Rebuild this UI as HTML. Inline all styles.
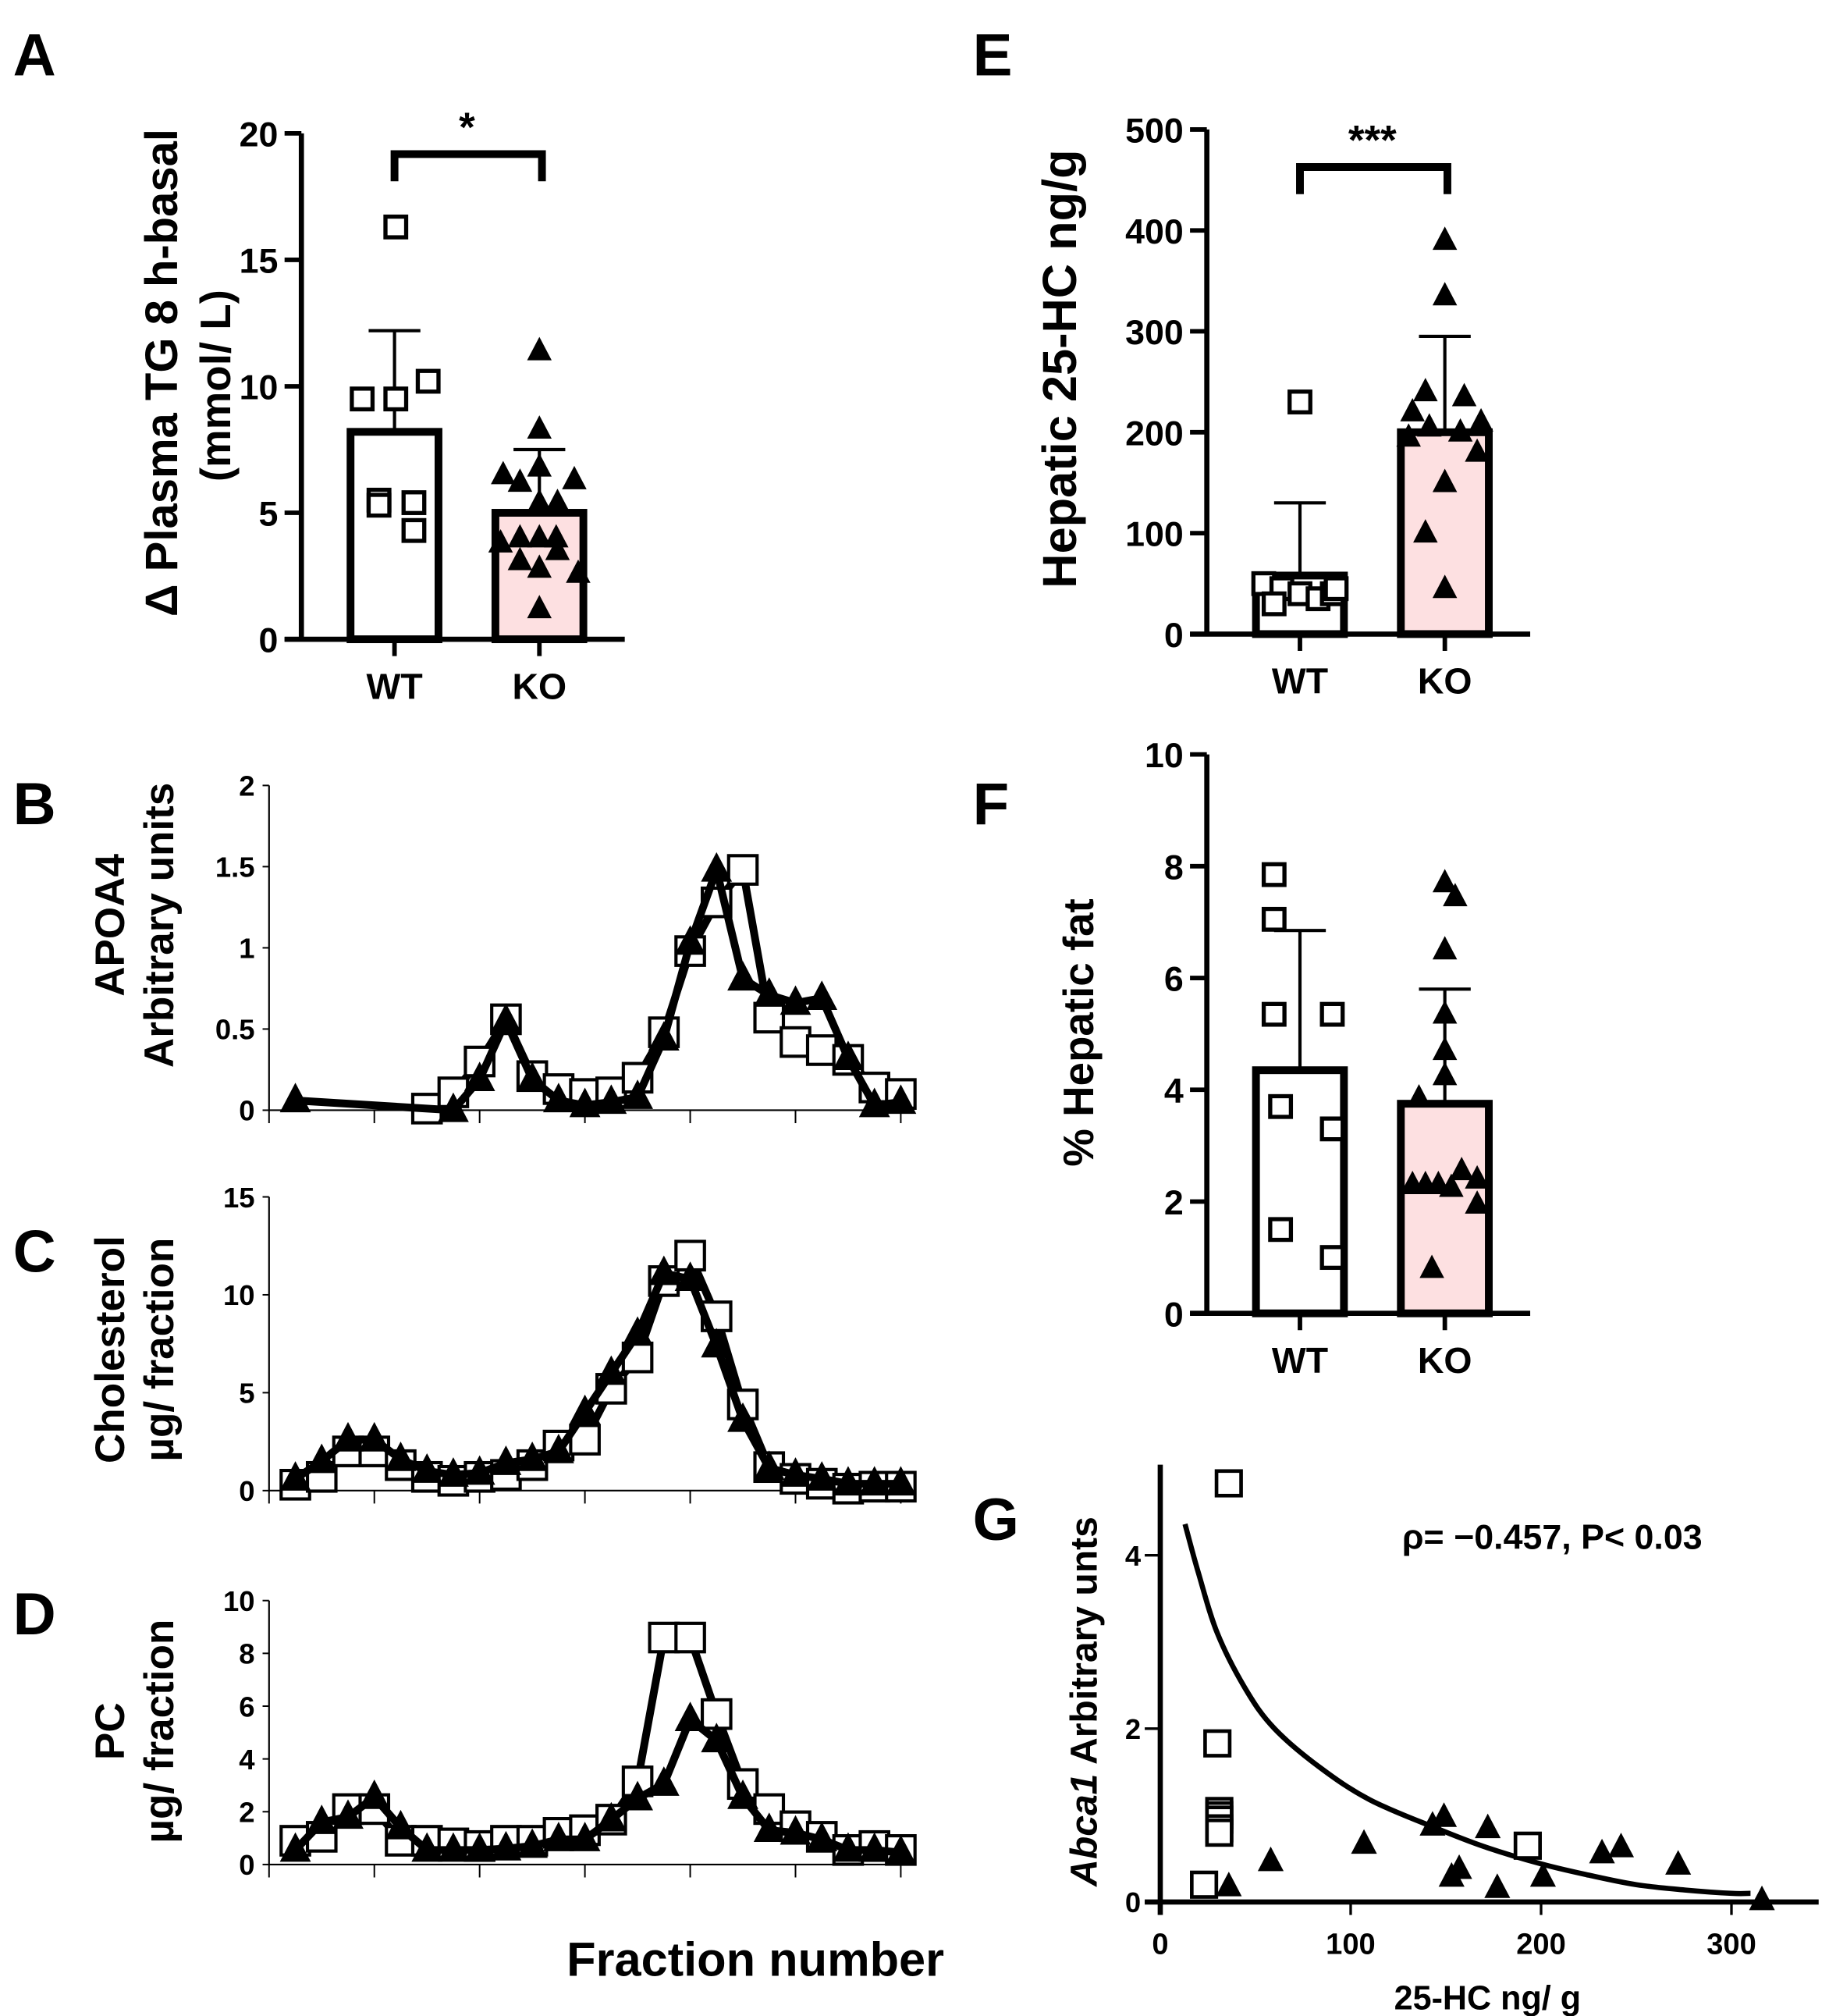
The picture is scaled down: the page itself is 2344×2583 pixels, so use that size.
<!DOCTYPE html>
<html><head><meta charset="utf-8"><title>Figure</title>
<style>
html,body{margin:0;padding:0;background:#fff;}
svg{display:block;}
text{font-family:"Liberation Sans",Arial,sans-serif;font-weight:bold;fill:#000;}
</style></head>
<body>
<svg id="fig" width="2344" height="2583" viewBox="0 0 1414 1558" xmlns="http://www.w3.org/2000/svg">
<rect x="0" y="0" width="1414" height="1558" fill="#fff"/>
<text x="10" y="58" font-size="46">A</text>
<text x="752" y="58" font-size="46">E</text>
<text x="10" y="637" font-size="46">B</text>
<text x="752" y="637" font-size="46">F</text>
<text x="10" y="983" font-size="46">C</text>
<text x="10" y="1263" font-size="46">D</text>
<text x="752" y="1190" font-size="46">G</text>
<text transform="translate(137,288) rotate(-90)" text-anchor="middle" font-size="35">Δ Plasma TG 8 h-basal</text>
<text transform="translate(178,298) rotate(-90)" text-anchor="middle" font-size="33">(mmol/ L)</text>
<text transform="translate(832,285) rotate(-90)" text-anchor="middle" font-size="37">Hepatic 25-HC ng/g</text>
<text transform="translate(845,798) rotate(-90)" text-anchor="middle" font-size="33">% Hepatic fat</text>
<text transform="translate(96,715) rotate(-90)" text-anchor="middle" font-size="32">APOA4</text>
<text transform="translate(134,715) rotate(-90)" text-anchor="middle" font-size="32">Arbitrary units</text>
<text transform="translate(96,1043) rotate(-90)" text-anchor="middle" font-size="32">Cholesterol</text>
<text transform="translate(134,1043) rotate(-90)" text-anchor="middle" font-size="32">µg/ fraction</text>
<text transform="translate(96,1338) rotate(-90)" text-anchor="middle" font-size="32">PC</text>
<text transform="translate(134,1338) rotate(-90)" text-anchor="middle" font-size="32">µg/ fraction</text>
<text x="584" y="1527" text-anchor="middle" font-size="37">Fraction number</text>
<text transform="translate(848,1315) rotate(-90)" text-anchor="middle" font-size="29"><tspan font-style="italic">Abca1</tspan> Arbitrary unts</text>
<text x="1150" y="1553" text-anchor="middle" font-size="26">25-HC ng/ g</text>
<text x="1200" y="1197" text-anchor="middle" font-size="27">ρ= −0.457, P&lt; 0.03</text>
<g id="plots"></g>
</svg>
<script>
const aGroups = ["WT","KO"];
const aTicks = [0,5,10,15,20];
const aMeans = [8.2, 5.0];
const aSD = [4.0, 2.5];
const aWT = [16.3, 9.5, 9.5, 10.2, 5.5, 5.3, 5.4, 4.3];
const aKO = [11.4, 8.3, 6.8, 6.5, 6.3, 6.2, 5.4, 5.4, 4.0, 4.0, 4.0, 3.8, 3.5, 3.1, 2.8, 2.6, 1.2];
const eTicks = [0,100,200,300,400,500];
const eMeans = [58, 200];
const eSD = [72, 95];
const eWT = [230, 50, 45, 40, 35, 40, 45, 30];
const eKO = [390, 335, 240, 235, 220, 210, 205, 200, 195, 180, 150, 100, 45];
const fTicks = [0,2,4,6,8,10];
const fMeans = [4.35, 3.75];
const fSD = [2.5, 2.05];
const fWT = [7.85, 7.05, 5.35, 5.35, 3.7, 3.3, 1.5, 1.0];
const fKO = [7.7, 7.45, 6.5, 5.35, 4.7, 4.25, 3.85, 2.55, 2.4, 2.3, 2.3, 2.3, 2.25, 1.95, 0.8];
const fractions = [1,2,3,4,5,6,7,8,9,10,11,12,13,14,15,16,17,18,19,20,21,22,23,24];
const bTicks = [0,0.5,1,1.5,2];
const bWT = [null,null,null,null,null,0.01,0.11,0.3,0.56,0.21,0.13,0.1,0.11,0.2,0.48,0.98,1.28,1.48,0.57,0.42,0.37,0.31,0.14,0.1];
const bKO = [0.06,null,null,null,null,null,0.0,0.19,0.55,0.19,0.06,0.03,0.05,0.08,0.44,1.03,1.48,0.81,0.71,0.66,0.69,0.32,0.03,0.05];
const cTicks = [0,5,10,15];
const cWT = [0.3,0.7,2.0,2.0,1.3,0.7,0.5,0.7,0.8,1.3,2.3,2.6,5.2,6.8,10.7,12.0,8.9,4.4,1.2,0.6,0.35,0.1,0.2,0.2];
const cKO = [0.6,1.5,2.6,2.6,1.6,1.0,0.8,0.9,1.4,1.6,2.0,4.0,6.0,8.0,11.1,10.8,7.4,3.6,1.15,0.8,0.6,0.35,0.35,0.35];
const dTicks = [0,2,4,6,8,10];
const dWT = [0.9,1.05,2.1,2.1,0.9,0.9,0.8,0.7,0.9,0.9,1.2,1.3,1.7,3.15,8.6,8.6,5.7,3.05,2.1,1.45,1.05,0.55,0.7,0.55];
const dKO = [0.55,1.6,1.8,2.55,1.4,0.55,0.55,0.55,0.6,0.7,0.95,0.95,1.7,2.5,3.05,5.5,4.7,2.55,1.3,1.2,0.95,0.55,0.55,0.45];
const gXTicks = [0,100,200,300];
const gYTicks = [0,2,4];
const gWTx = [36,30,31,31,31,31,31,193,23];
const gWTy = [4.83,1.83,1.05,1.0,0.95,0.85,0.8,0.65,0.2];
const gKOx = [36,58,107,143,149,172,153,157,177,201,232,242,272,316];
const gKOy = [0.18,0.47,0.67,0.88,0.98,0.85,0.29,0.38,0.16,0.29,0.56,0.63,0.43,0.02];
const gFitX = [13,20,30,45,60,84,110,144,170,200,225,250,275,300,310];
const gFitY = [4.36,3.8,3.1,2.45,2.0,1.55,1.18,0.86,0.64,0.44,0.31,0.2,0.14,0.1,0.1];

const aWTj=[1,-25,1,26,-12,-12,15,15];
const aKOj=[0,0,0,-28,27,-15,0,14,-15,0,13,-30,14,-15,0,30,0];
const eWTj=[0,-28,-14,0,14,25,28,-20];
const eKOj=[0,0,-15,15,-25,28,-12,12,-28,25,0,-15,0];
const fWTj=[-20,-20,-20,25,-15,25,-15,25];
const fKOj=[0,8,0,0,0,0,-20,13,25,-25,-15,-5,5,25,-10];

const NS = document.getElementById('fig').namespaceURI;
const root = document.getElementById('plots');
function mk(tag, attrs, parent){
  const e=document.createElementNS(NS,tag);
  for(const k in attrs){ e.setAttribute(k, attrs[k]); }
  (parent||root).appendChild(e);
  return e;
}
function sq(g,cx,cy,s,sw){
  return mk('rect',{x:cx-s/2,y:cy-s/2,width:s,height:s,fill:'#fff',stroke:'#000','stroke-width':sw},g);
}
function tri(g,cx,cy,s){
  const h=s*0.95;
  return mk('polygon',{points:`${cx},${cy-h*0.6} ${cx-s/2},${cy+h*0.4} ${cx+s/2},${cy+h*0.4}`,fill:'#000'},g);
}

function barPanel(id, opt){
  const g=mk('g',{});
  
  
  const yMax = opt.ticks[opt.ticks.length-1];
  const Y = v => opt.y0 - (v/yMax)*(opt.y0-opt.yTop);
  const centers=[opt.axisX+72, opt.axisX+184];
  opt.means.forEach((m,i)=>{
    const b=mk('rect',{x:centers[i]-34,y:Y(m),width:68,height:opt.y0-Y(m),fill:i?'#fde0e1':'#fff',stroke:'#000','stroke-width':6},g);
    
    
    const e=mk('path',{d:`M${centers[i]},${Y(m)} V${Y(m+opt.sd[i])} M${centers[i]-20},${Y(m+opt.sd[i])} H${centers[i]+20}`,stroke:'#000','stroke-width':2.5,fill:'none'},g);
    
    
  });
  const ax=mk('path',{d:`M${opt.axisX},${opt.yTop} V${opt.y0} M${opt.axisX-13},${opt.y0} H${opt.axisX+250}`,stroke:'#000','stroke-width':4,fill:'none'},g);
  
  
  opt.ticks.forEach(t=>{
    const tk=mk('line',{x1:opt.axisX-13,x2:opt.axisX,y1:Y(t),y2:Y(t),stroke:'#000','stroke-width':3.5},g);
    
    
    const tl=mk('text',{x:opt.axisX-18,y:Y(t)+10,'text-anchor':'end','font-size':27},g);
    tl.textContent=t;
    
    
  });
  centers.forEach((c,i)=>{
    const tk=mk('line',{x1:c,x2:c,y1:opt.y0,y2:opt.y0+13,stroke:'#000','stroke-width':3.5},g);
    
    
    const tl=mk('text',{x:c,y:opt.y0+46,'text-anchor':'middle','font-size':28},g);
    tl.textContent=opt.groups[i];
    
    
  });
  opt.wt.forEach((v,i)=>{
    const d=sq(g,centers[0]+opt.wtj[i],Y(v),16,3.2);
    
    
  });
  opt.ko.forEach((v,i)=>{
    const d=tri(g,centers[1]+opt.koj[i],Y(v),19);
    
    
  });
  if(opt.sig){
    const br=mk('path',{d:`M${centers[0]},${opt.brY+21} V${opt.brY} H${centers[1]+2} V${opt.brY+21}`,stroke:'#000','stroke-width':6,fill:'none'},g);
    
    
    const st=mk('text',{x:(centers[0]+centers[1])/2,y:opt.brY-10,'text-anchor':'middle','font-size':32},g);
    st.textContent=opt.sig;
    
    
  }
}
barPanel('a',{axisX:233,y0:494,yTop:103,ticks:aTicks,groups:aGroups,means:aMeans,sd:aSD,wt:aWT,ko:aKO,wtj:aWTj,koj:aKOj,sig:'*',brY:119});
barPanel('e',{axisX:933,y0:490,yTop:100,ticks:eTicks,groups:aGroups,means:eMeans,sd:eSD,wt:eWT,ko:eKO,wtj:eWTj,koj:eKOj,sig:'***',brY:129});
barPanel('f',{axisX:933,y0:1015,yTop:583,ticks:fTicks,groups:aGroups,means:fMeans,sd:fSD,wt:fWT,ko:fKO,wtj:fWTj,koj:fKOj,sig:null});

function fracPanel(id, opt){
  const g=mk('g',{});
  
  
  const yMax=opt.ticks[opt.ticks.length-1];
  const X = f => 208 + f*20.35;
  const Y = v => opt.y0 - (v/yMax)*(opt.y0-opt.yTop);
  const ax=mk('path',{d:`M208,${opt.yTop} V${opt.y0} H706`,stroke:'#000','stroke-width':1.3,fill:'none'},g);
  
  
  opt.ticks.forEach(t=>{
    const tk=mk('line',{x1:203,x2:208,y1:Y(t),y2:Y(t),stroke:'#000','stroke-width':1.2},g);
    
    
    const tl=mk('text',{x:197,y:Y(t)+8,'text-anchor':'end','font-size':22},g);
    tl.textContent=t;
    tl.setAttribute('font-weight','normal');
    
    
  });
  for(let f=0; f<=24; f+=4){
    const tk=mk('line',{x1:X(f),x2:X(f),y1:opt.y0,y2:opt.y0+10,stroke:'#000','stroke-width':1.2},g);
    
    
  }
  [['wt',opt.wt],['ko',opt.ko]].forEach(([name,arr])=>{
    let d='';
    arr.forEach((v,i)=>{ if(v!==null){ d += (d?' L':'M')+X(fractions[i])+','+Y(v); } });
    const ln=mk('path',{d:d,stroke:'#000','stroke-width':6,fill:'none','stroke-linejoin':'round'},g);
    
    
    arr.forEach((v,i)=>{
      if(v===null) return;
      const m = name==='wt' ? sq(g,X(fractions[i]),Y(v),22,2.5) : tri(g,X(fractions[i]),Y(v),24);
      
      
    });
  });
}
fracPanel('b',{y0:858,yTop:607,ticks:bTicks,wt:bWT,ko:bKO});
fracPanel('c',{y0:1152,yTop:925,ticks:cTicks,wt:cWT,ko:cKO});
fracPanel('d',{y0:1441,yTop:1237,ticks:dTicks,wt:dWT,ko:dKO});

(function(){
  const g=mk('g',{});
  
  
  const X = v => 897 + v*1.472;
  const Y = v => 1470 - v*67;
  const ax=mk('path',{d:`M897,1132 V1470 M885,1470 H1406 M897,1470 V1480`,stroke:'#000','stroke-width':4,fill:'none'},g);
  
  
  gYTicks.forEach(t=>{
    const tk=mk('line',{x1:885,x2:897,y1:Y(t),y2:Y(t),stroke:'#000','stroke-width':2},g);
    
    
    const tl=mk('text',{x:882,y:Y(t)+8,'text-anchor':'end','font-size':22},g);
    tl.textContent=t;
    
    
  });
  gXTicks.forEach(t=>{
    const tk=mk('line',{x1:X(t),x2:X(t),y1:1470,y2:1480,stroke:'#000','stroke-width':2},g);
    
    
    const tl=mk('text',{x:X(t),y:1510,'text-anchor':'middle','font-size':23},g);
    tl.textContent=t;
    
    
  });
  const pts=gFitX.map((x,i)=>[X(x),Y(gFitY[i])]);
  let d='M'+pts[0][0]+','+pts[0][1];
  for(let i=0;i<pts.length-1;i++){
    const p0=pts[Math.max(0,i-1)],p1=pts[i],p2=pts[i+1],p3=pts[Math.min(pts.length-1,i+2)];
    const c1=[p1[0]+(p2[0]-p0[0])/6,p1[1]+(p2[1]-p0[1])/6];
    const c2=[p2[0]-(p3[0]-p1[0])/6,p2[1]-(p3[1]-p1[1])/6];
    d+=` C${c1[0]},${c1[1]} ${c2[0]},${c2[1]} ${p2[0]},${p2[1]}`;
  }
  const fit=mk('path',{d:d,stroke:'#000','stroke-width':4,fill:'none'},g);
  
  
  gWTx.forEach((x,i)=>{
    const m=sq(g,X(x),Y(gWTy[i]),19,2.8);
    
    
  });
  gKOx.forEach((x,i)=>{
    const m=tri(g,X(x),Y(gKOy[i]),20);
    
    
  });
})();
</script>
</body></html>
